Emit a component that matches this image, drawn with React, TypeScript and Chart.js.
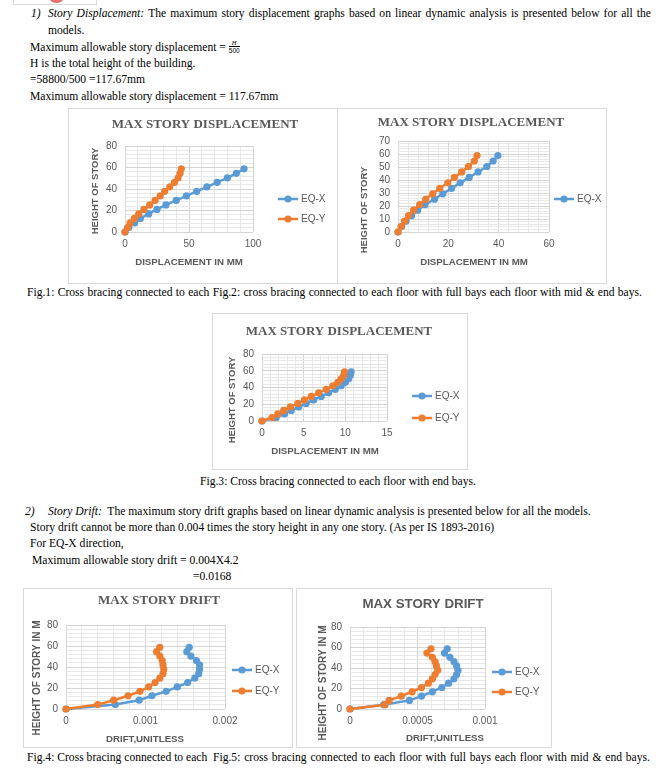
import React, { useEffect, useRef } from "react";
import { Chart, registerables } from "chart.js";

Chart.register(...registerables);

// ---------------- DATA ----------------
const STORY_HEIGHTS = [0, 4.2, 8.4, 12.6, 16.8, 21, 25.2, 29.4, 33.6, 37.8, 42, 46.2, 50.4, 54.6, 58.8];
const SERIES_LABELS = ["EQ-X", "EQ-Y"];

// Fig.1 displacement (mm)
const FIG1_EQX = [0, 3, 7.5, 12, 18.5, 25, 32, 40, 48, 56, 64, 72, 80, 87, 93];
const FIG1_EQY = [0, 2, 4, 7.3, 10.7, 14.8, 19.3, 23.5, 27.5, 31, 35, 38.7, 41.5, 43, 44];
const FIG1_X_TICKS = [0, 50, 100];
const FIG1_Y_TICKS = [0, 20, 40, 60, 80];

// Fig.2 displacement (mm)
const FIG2_EQX = [0, 1.5, 3.2, 5.4, 7.8, 10.7, 14.5, 17.8, 21.3, 24.7, 28.3, 31.8, 35.3, 37.8, 39.7];
const FIG2_EQY = [0, 1.2, 2.6, 4.2, 6.2, 8.6, 11, 13.8, 16.6, 19.8, 22.4, 25.3, 28, 30.3, 31.4];
const FIG2_X_TICKS = [0, 20, 40, 60];
const FIG2_Y_TICKS = [0, 10, 20, 30, 40, 50, 60, 70];

// Fig.3 displacement (mm)
const FIG3_EQX = [0, 1.7, 2.7, 3.5, 4.4, 5.3, 6.2, 7.1, 8.0, 8.8, 9.5, 10.0, 10.4, 10.6, 10.7];
const FIG3_EQY = [0, 1.2, 1.9, 2.6, 3.4, 4.3, 5.1, 5.9, 6.8, 7.7, 8.5, 9.1, 9.5, 9.8, 9.9];
const FIG3_X_TICKS = [0, 5, 10, 15];
const FIG3_Y_TICKS = [0, 20, 40, 60, 80];

// Fig.4 drift (unitless)
const FIG4_EQX = [0, 0.00062, 0.00092, 0.00108, 0.00126, 0.0014, 0.00153, 0.00162, 0.00167, 0.00168, 0.00168, 0.00164, 0.00157, 0.00152, 0.00155];
const FIG4_EQY = [0, 0.0004, 0.0006, 0.00078, 0.00093, 0.00104, 0.00112, 0.00118, 0.00122, 0.00123, 0.00122, 0.00121, 0.00118, 0.00114, 0.00118];
const FIG4_X_TICKS = [0, 0.001, 0.002];
const FIG4_Y_TICKS = [0, 20, 40, 60, 80];

// Fig.5 drift (unitless)
const FIG5_EQX = [0, 0.00025, 0.00044, 0.00053, 0.00061, 0.00068, 0.00073, 0.00077, 0.00079, 0.0008, 0.00079, 0.00077, 0.00074, 0.0007, 0.00072];
const FIG5_EQY = [0, 0.00026, 0.00029, 0.00038, 0.00046, 0.00053, 0.00058, 0.00061, 0.00063, 0.00065, 0.00064, 0.00063, 0.00061, 0.00057, 0.0006];
const FIG5_X_TICKS = [0, 0.0005, 0.001];
const FIG5_Y_TICKS = [0, 20, 40, 60, 80];

// ---------------- STYLE ----------------
const BLUE = "#5b9bd5";
const ORANGE = "#ed7d31";
const TEXT = "#595959";
const GRID_MAJOR = "#d4d4d4";
const GRID_MINOR = "#e8e8e8";
const SANS = '"Liberation Sans", Arial, sans-serif';
const SERIF = '"Liberation Serif", "Times New Roman", serif';

type Spec = {
  box: { left: number; top: number; width: number; height: number };
  pad: { left: number; right: number; top: number; bottom: number };
  yWidth: number;
  xHeight: number;
  x: { min: number; max: number; step: number; majors: number[] };
  y: { min: number; max: number; step: number; majors: number[] };
  eqx: number[];
  eqy: number[];
  title: string;
  titleFont: string;
  titlePos: [number, number];
  xTitle: string;
  xTitleFont: string;
  xTitlePos: [number, number];
  yTitle: string;
  yTitleFont: string;
  yTitlePos: [number, number];
  legendX: number;
  legendRows: { index: number; y: number }[];
};

function nearMajor(v: number, majors: number[], step: number) {
  return majors.find((m) => Math.abs(v - m) < step * 0.01);
}

function makeAxis(a: { min: number; max: number; step: number; majors: number[] }, which: "x" | "y", fixed: number) {
  return {
    type: "linear" as const,
    min: a.min,
    max: a.max,
    ticks: {
      stepSize: a.step,
      autoSkip: false,
      maxRotation: 0,
      minRotation: 0,
      padding: which === "x" ? 6 : 8,
      color: TEXT,
      font: { family: SANS, size: 10 },
      callback: (v: any) => {
        const m = nearMajor(Number(v), a.majors, a.step);
        return m === undefined ? "" : String(m);
      },
    },
    grid: {
      drawTicks: false,
      lineWidth: 1,
      color: (c: any) => (nearMajor(c.tick ? c.tick.value : 0, a.majors, a.step) !== undefined ? GRID_MAJOR : GRID_MINOR),
    },
    border: { display: false },
    afterFit: (s: any) => {
      if (which === "x") s.height = fixed;
      else s.width = fixed;
    },
  };
}

function ScatterChart({ spec }: { spec: Spec }) {
  const ref = useRef<HTMLCanvasElement | null>(null);
  const cw = spec.box.width - 2;
  const ch = spec.box.height - 2;

  useEffect(() => {
    const canvas = ref.current;
    if (!canvas) return;
    const series = [
      { label: SERIES_LABELS[0], xs: spec.eqx, color: BLUE, order: 1 },
      { label: SERIES_LABELS[1], xs: spec.eqy, color: ORANGE, order: 0 },
    ];
    const overlay = {
      id: "overlay",
      afterDraw(chart: any) {
        const ctx = chart.ctx as CanvasRenderingContext2D;
        ctx.save();
        ctx.fillStyle = TEXT;
        ctx.textAlign = "center";
        ctx.textBaseline = "middle";
        ctx.font = spec.titleFont;
        ctx.fillText(spec.title, spec.titlePos[0], spec.titlePos[1]);
        ctx.font = spec.xTitleFont;
        ctx.fillText(spec.xTitle, spec.xTitlePos[0], spec.xTitlePos[1]);
        ctx.save();
        ctx.translate(spec.yTitlePos[0], spec.yTitlePos[1]);
        ctx.rotate(-Math.PI / 2);
        ctx.font = spec.yTitleFont;
        ctx.fillText(spec.yTitle, 0, 0);
        ctx.restore();
        spec.legendRows.forEach((row) => {
          const ds = chart.data.datasets[row.index];
          const lx = spec.legendX;
          ctx.strokeStyle = ds.borderColor;
          ctx.lineWidth = 2.5;
          ctx.beginPath();
          ctx.moveTo(lx, row.y);
          ctx.lineTo(lx + 20, row.y);
          ctx.stroke();
          ctx.fillStyle = ds.borderColor;
          ctx.beginPath();
          ctx.arc(lx + 10, row.y, 3.6, 0, Math.PI * 2);
          ctx.fill();
          ctx.fillStyle = TEXT;
          ctx.textAlign = "left";
          ctx.font = `10px ${SANS}`;
          ctx.fillText(ds.label, lx + 23, row.y);
        });
        ctx.restore();
      },
    };
    const chart = new Chart(canvas, {
      type: "scatter",
      data: {
        datasets: series.map((s) => ({
          label: s.label,
          data: s.xs.map((x, i) => ({ x, y: STORY_HEIGHTS[i] })),
          showLine: true,
          borderColor: s.color,
          backgroundColor: s.color,
          borderWidth: 2.5,
          pointRadius: 3.6,
          pointHoverRadius: 3.6,
          pointBorderWidth: 0,
          pointBackgroundColor: s.color,
          tension: 0,
          clip: false as any,
          order: s.order,
        })),
      },
      options: {
        responsive: false,
        animation: false,
        events: [],
        layout: { padding: spec.pad },
        plugins: {
          legend: { display: false },
          title: { display: false },
          tooltip: { enabled: false },
        },
        scales: {
          x: makeAxis(spec.x, "x", spec.xHeight) as any,
          y: makeAxis(spec.y, "y", spec.yWidth) as any,
        },
      },
      plugins: [overlay],
    });
    return () => chart.destroy();
  }, []);

  return (
    <div
      style={{
        position: "absolute",
        left: spec.box.left,
        top: spec.box.top,
        width: spec.box.width,
        height: spec.box.height,
        border: "1px solid #d9d9d9",
        boxSizing: "border-box",
        background: "#fff",
      }}
    >
      <canvas ref={ref} width={cw} height={ch} style={{ display: "block", width: cw, height: ch }} />
    </div>
  );
}

const TITLE_SERIF = `bold 13px ${SERIF}`;
const AXIS_FONT = `bold 9.7px ${SANS}`;

const SPECS: Spec[] = [
  {
    box: { left: 68, top: 108, width: 270, height: 176 },
    pad: { left: 36, right: 84, top: 37, bottom: 31 },
    yWidth: 20,
    xHeight: 20,
    x: { min: 0, max: 100, step: 10, majors: FIG1_X_TICKS },
    y: { min: 0, max: 80, step: 4, majors: FIG1_Y_TICKS },
    eqx: FIG1_EQX,
    eqy: FIG1_EQY,
    title: "MAX STORY DISPLACEMENT",
    titleFont: TITLE_SERIF,
    titlePos: [136, 16],
    xTitle: "DISPLACEMENT IN MM",
    xTitleFont: AXIS_FONT,
    xTitlePos: [120, 153],
    yTitle: "HEIGHT OF STORY",
    yTitleFont: `bold 9.5px ${SANS}`,
    yTitlePos: [26, 82],
    legendX: 209,
    legendRows: [
      { index: 0, y: 90 },
      { index: 1, y: 110 },
    ],
  },
  {
    box: { left: 337, top: 108, width: 270, height: 176 },
    pad: { left: 40, right: 57, top: 32, bottom: 31 },
    yWidth: 20,
    xHeight: 20,
    x: { min: 0, max: 60, step: 4, majors: FIG2_X_TICKS },
    y: { min: 0, max: 70, step: 2, majors: FIG2_Y_TICKS },
    eqx: FIG2_EQX,
    eqy: FIG2_EQY,
    title: "MAX STORY DISPLACEMENT",
    titleFont: TITLE_SERIF,
    titlePos: [133, 14],
    xTitle: "DISPLACEMENT IN MM",
    xTitleFont: AXIS_FONT,
    xTitlePos: [136, 153],
    yTitle: "HEIGHT OF STORY",
    yTitleFont: `bold 9.5px ${SANS}`,
    yTitlePos: [26, 101],
    legendX: 216,
    legendRows: [{ index: 0, y: 90 }],
  },
  {
    box: { left: 212, top: 313, width: 256, height: 157 },
    pad: { left: 29, right: 80, top: 40, bottom: 28 },
    yWidth: 20,
    xHeight: 20,
    x: { min: 0, max: 15, step: 1, majors: FIG3_X_TICKS },
    y: { min: 0, max: 80, step: 4, majors: FIG3_Y_TICKS },
    eqx: FIG3_EQX,
    eqy: FIG3_EQY,
    title: "MAX STORY DISPLACEMENT",
    titleFont: TITLE_SERIF,
    titlePos: [126, 18],
    xTitle: "DISPLACEMENT IN MM",
    xTitleFont: AXIS_FONT,
    xTitlePos: [112, 137],
    yTitle: "HEIGHT OF STORY",
    yTitleFont: `bold 9.5px ${SANS}`,
    yTitlePos: [19, 86],
    legendX: 199,
    legendRows: [
      { index: 0, y: 82 },
      { index: 1, y: 104 },
    ],
  },
  {
    box: { left: 23, top: 588, width: 270, height: 160 },
    pad: { left: 22, right: 67, top: 36, bottom: 18 },
    yWidth: 20,
    xHeight: 20,
    x: { min: 0, max: 0.002, step: 0.0002, majors: FIG4_X_TICKS },
    y: { min: 0, max: 80, step: 4, majors: FIG4_Y_TICKS },
    eqx: FIG4_EQX,
    eqy: FIG4_EQY,
    title: "MAX STORY DRIFT",
    titleFont: TITLE_SERIF,
    titlePos: [135, 12],
    xTitle: "DRIFT,UNITLESS",
    xTitleFont: AXIS_FONT,
    xTitlePos: [121, 150],
    yTitle: "HEIGHT OF STORY IN M",
    yTitleFont: `bold 10px ${SANS}`,
    yTitlePos: [13, 89],
    legendX: 208,
    legendRows: [
      { index: 0, y: 81 },
      { index: 1, y: 102 },
    ],
  },
  {
    box: { left: 296, top: 588, width: 256, height: 160 },
    pad: { left: 33, right: 66, top: 38, bottom: 18 },
    yWidth: 20,
    xHeight: 20,
    x: { min: 0, max: 0.001, step: 0.0001, majors: FIG5_X_TICKS },
    y: { min: 0, max: 80, step: 4, majors: FIG5_Y_TICKS },
    eqx: FIG5_EQX,
    eqy: FIG5_EQY,
    title: "MAX STORY DRIFT",
    titleFont: `bold 13.3px ${SANS}`,
    titlePos: [126, 15],
    xTitle: "DRIFT,UNITLESS",
    xTitleFont: AXIS_FONT,
    xTitlePos: [148, 149],
    yTitle: "HEIGHT OF STORY IN M",
    yTitleFont: `bold 10px ${SANS}`,
    yTitlePos: [26, 94],
    legendX: 195,
    legendRows: [
      { index: 0, y: 83 },
      { index: 1, y: 103 },
    ],
  },
];

// ---------------- TEXT ----------------
const baseText: React.CSSProperties = {
  position: "absolute",
  whiteSpace: "nowrap",
  fontFamily: SERIF,
  fontSize: 11.6,
  lineHeight: "14px",
  color: "#000",
};

function T({ x, y, children, italic }: { x: number; y: number; children: React.ReactNode; italic?: boolean }) {
  return <div style={{ ...baseText, left: x, top: y - 7.5, fontStyle: italic ? "italic" : "normal" }}>{children}</div>;
}

function J({ x, y, w, words }: { x: number; y: number; w: number; words: (string | { i: string })[] }) {
  return (
    <div style={{ ...baseText, left: x, top: y - 7.5, width: w, display: "flex", justifyContent: "space-between" }}>
      {words.map((wd, k) =>
        typeof wd === "string" ? <span key={k}>{wd}</span> : <span key={k} style={{ fontStyle: "italic" }}>{wd.i}</span>
      )}
    </div>
  );
}

const P1_L1 = "The maximum story displacement graphs based on linear dynamic analysis is presented below for all the".split(" ");
const CAP1 = "Fig.1: Cross bracing connected to each Fig.2: cross bracing connected to each floor with full bays each floor with mid & end bays.".split(" ");
const CAP5 = "Fig.5: cross bracing connected to each floor with full bays each floor with mid & end bays.".split(" ");

export default function App() {
  return (
    <div style={{ position: "absolute", left: 0, top: 0, width: 666, height: 772, overflow: "hidden", background: "#fff" }}>
      {/* top decoration fragment */}
      <div style={{ position: "absolute", left: 13, top: -2, width: 84, height: 7, borderLeft: "1px solid #d9d9d9", borderRight: "1px solid #d9d9d9", borderBottom: "1px solid #d9d9d9", boxSizing: "border-box" }} />
      <div style={{ position: "absolute", left: 50, top: -5, width: 13, height: 8, borderRadius: "50%", background: "#e57373" }} />

      <T x={31} y={14} italic>1)</T>
      <J x={48} y={14} w={603} words={[{ i: "Story" }, { i: "Displacement:" }, ...P1_L1]} />
      <T x={48} y={31}>models.</T>
      <T x={30} y={48}>
        Maximum allowable story displacement ={" "}
        <span style={{ display: "inline-block", verticalAlign: "middle", textAlign: "center", lineHeight: "7px", fontSize: 6.5, marginTop: -2 }}>
          <span style={{ display: "block", fontStyle: "italic", fontFamily: SERIF, borderBottom: "0.8px solid #000", padding: "0 2px" }}>H</span>
          <span style={{ display: "block", fontFamily: SANS }}>500</span>
        </span>
      </T>
      <T x={30} y={64}>H is the total height of the building.</T>
      <T x={30} y={80}>=58800/500 =117.67mm</T>
      <T x={30} y={97}>Maximum allowable story displacement = 117.67mm</T>

      <ScatterChart spec={SPECS[0]} />
      <ScatterChart spec={SPECS[1]} />

      <J x={27} y={293} w={615} words={CAP1} />

      <ScatterChart spec={SPECS[2]} />

      <T x={200} y={482}>Fig.3: Cross bracing connected to each floor with end bays.</T>

      <T x={25} y={512} italic>2)</T>
      <T x={48} y={512}>
        <i>Story Drift:</i>&nbsp; The maximum story drift graphs based on linear dynamic analysis is presented below for all the models.
      </T>
      <T x={30} y={528}>Story drift cannot be more than 0.004 times the story height in any one story. (As per IS 1893-2016)</T>
      <T x={30} y={544}>For EQ-X direction,</T>
      <T x={32} y={561}>Maximum allowable story drift = 0.004X4.2</T>
      <T x={193} y={577}>=0.0168</T>

      <ScatterChart spec={SPECS[3]} />
      <ScatterChart spec={SPECS[4]} />

      <T x={27} y={758}>Fig.4: Cross bracing connected to each</T>
      <J x={213} y={758} w={437} words={CAP5} />
    </div>
  );
}
